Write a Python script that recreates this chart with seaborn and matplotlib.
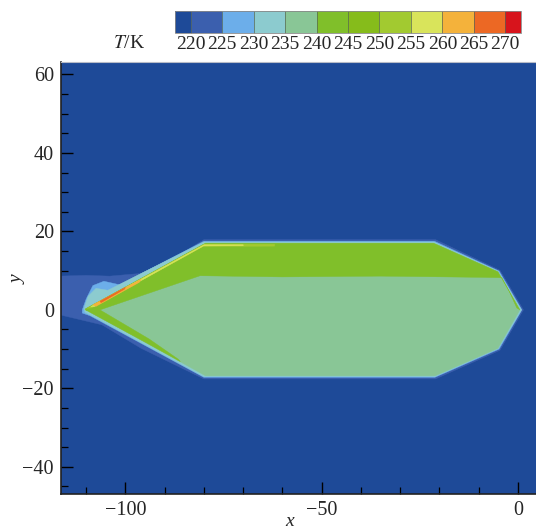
import matplotlib
matplotlib.use("Agg")
import matplotlib.pyplot as plt
from matplotlib.colors import ListedColormap, BoundaryNorm
from matplotlib.collections import PolyCollection
from matplotlib.ticker import MultipleLocator
import seaborn as sns

sns.set_style("ticks")
plt.rcParams["font.family"] = ["Liberation Serif", "DejaVu Serif"]
plt.rcParams["mathtext.fontset"] = "stix"

# ------------------------------------------------------------------
# contour levels (K) and the colour of each band of the legend bar
# ------------------------------------------------------------------
LEVELS = [220, 225, 230, 235, 240, 245, 250, 255, 260, 265, 270]
COLORS = ["#1e4a98", "#3b5fae", "#6caeea", "#8ccbcf", "#89c696", "#80bf2a",
          "#86bc1b", "#a2ca30", "#d9e45b", "#f4b23b", "#ec6824", "#d7141c"]

# free stream temperature (below the lowest level)
T_FREE = 215

# temperature regions: outline (x, y) and temperature
HALO_X = [-117.0, -110.0, -104.0, -96.0, -88.0, -80.0, -21.0, -4.6, 1.4,
          -4.6, -21.0, -80.0, -96.0, -106.0, -117.0]
HALO_Y = [8.6, 8.8, 8.6, 9.3, 13.0, 17.9, 17.9, 10.1, 0.0,
          -10.3, -17.6, -17.6, -9.8, -3.8, -1.2]
HALO_T = 222

LBLUE_X = [-111.0, -110.0, -108.3, -105.5, -101.5, -80.0, -21.3, -4.8, 1.0,
           -4.8, -21.2, -80.0, -109.0, -111.0]
LBLUE_Y = [0.0, 2.8, 6.2, 7.3, 6.4, 17.5, 17.5, 9.9, 0.0,
           -10.0, -17.2, -17.2, -1.5, -0.8]
LBLUE_T = 227

CYAN_X = [-110.6, -109.5, -107.5, -104.5, -80.0, -21.4, -5.0, 0.9,
          -5.0, -21.2, -80.0, -110.3]
CYAN_Y = [0.3, 3.5, 5.5, 5.0, 17.3, 17.3, 9.85, 0.0,
          -9.9, -17.05, -17.05, -0.6]
CYAN_T = 232

BODY_X = [-110.3, -79.6, -21.5, -5.1, 0.5, -5.1, -21.1, -79.6]
BODY_Y = [0.2, 17.0, 17.0, 9.7, 0.0, -9.8, -16.8, -16.8]
BODY_T = 237

UPPER_X = [-110.3, -79.6, -21.5, -5.1, 0.5, -0.3, -2.2, -4.1, -9.7,
           -35.0, -60.0, -81.0, -106.5, -110.0]
UPPER_Y = [0.2, 17.0, 17.0, 9.7, 0.0, 0.5, 4.7, 8.2, 8.3,
           8.6, 8.4, 8.7, 0.0, -0.2]
UPPER_T = 242

LOWER_X = [-110.0, -94.5, -86.0, -86.5, -94.0, -106.5]
LOWER_Y = [-0.1, -8.5, -13.2, -12.6, -7.4, 0.0]
LOWER_T = 242

EDGE_X = [-109.8, -79.8, -62.0, -62.0, -80.2, -108.6]
EDGE_Y = [0.4, 16.75, 16.75, 16.25, 16.15, 0.5]
EDGE_T = 252

YELLOW_X = [-108.8, -80.0, -70.0, -70.0, -80.1, -108.0]
YELLOW_Y = [0.85, 16.6, 16.6, 16.35, 16.3, 0.8]
YELLOW_T = 257

ORANGE_X = [-108.3, -96.0, -96.5, -107.5]
ORANGE_Y = [1.3, 7.8, 7.0, 0.9]
ORANGE_T = 262

RED_X = [-106.5, -100.0, -100.3, -106.2]
RED_Y = [2.2, 5.75, 5.25, 1.85]
RED_T = 267

regions = [
    (HALO_X, HALO_Y, HALO_T),
    (LBLUE_X, LBLUE_Y, LBLUE_T),
    (CYAN_X, CYAN_Y, CYAN_T),
    (BODY_X, BODY_Y, BODY_T),
    (UPPER_X, UPPER_Y, UPPER_T),
    (LOWER_X, LOWER_Y, LOWER_T),
    (EDGE_X, EDGE_Y, EDGE_T),
    (YELLOW_X, YELLOW_Y, YELLOW_T),
    (ORANGE_X, ORANGE_Y, ORANGE_T),
    (RED_X, RED_Y, RED_T),
]

cmap = ListedColormap(sns.color_palette(COLORS))
norm = BoundaryNorm(LEVELS, ncolors=len(COLORS), extend="both")

# ------------------------------------------------------------------
# figure
# ------------------------------------------------------------------
W, H = 536, 530
fig = plt.figure(figsize=(W / 100, H / 100), dpi=100)
ax = fig.add_axes([60.7 / W, (H - 494.3) / H, 1 - 60.7 / W, (494.3 - 61.5) / H])

ax.set_facecolor(cmap(norm(T_FREE)))
verts = [list(zip(x, y)) for x, y, t in regions]
pc = PolyCollection(verts, array=[t for x, y, t in regions], cmap=cmap,
                    norm=norm, edgecolors="face", linewidths=0.3)
ax.add_collection(pc)

ax.set_xlim(-116.5, 4.6)
ax.set_ylim(-47.0, 63.3)
ax.set_xticks([-100, -50, 0])
ax.set_yticks([-40, -20, 0, 20, 40, 60])
ax.xaxis.set_minor_locator(MultipleLocator(10))
ax.yaxis.set_minor_locator(MultipleLocator(5))
ax.tick_params(which="both", direction="in", top=False, right=False,
               color="black", labelsize=14.5)
ax.tick_params(which="major", length=8.5, width=1.0, pad=5)
ax.tick_params(which="minor", length=5, width=0.9)
ax.spines["right"].set_visible(False)
ax.spines["top"].set_color("#b8bcc8")
ax.spines["top"].set_linewidth(0.8)
for side in ["left", "bottom"]:
    ax.spines[side].set_color("#222222")
    ax.spines[side].set_linewidth(1.2)

ax.set_xlabel("x", fontstyle="italic", fontsize=14)
ax.set_ylabel("y", fontstyle="italic", fontsize=14)
ax.xaxis.set_label_coords(0.4824, -0.043)
ax.yaxis.set_label_coords(-0.0715, 0.495)

# colour bar on top
cax = fig.add_axes([175 / W, (H - 33) / H, (521 - 175) / W, 22 / H])
cb = fig.colorbar(pc, cax=cax, orientation="horizontal", extend="both",
                  extendrect=True, extendfrac=0.05, drawedges=True,
                  ticks=LEVELS)
cb.ax.tick_params(length=0, labelsize=14, pad=2)
cb.outline.set_edgecolor("#888888")
cb.outline.set_linewidth(0.6)
cb.dividers.set_color("#556655")
cb.dividers.set_linewidth(0.5)
fig.text(129 / W, 1 - 43 / H, r"$T$/K", ha="center", va="center", fontsize=14)

fig.savefig("out.png", dpi=100)
